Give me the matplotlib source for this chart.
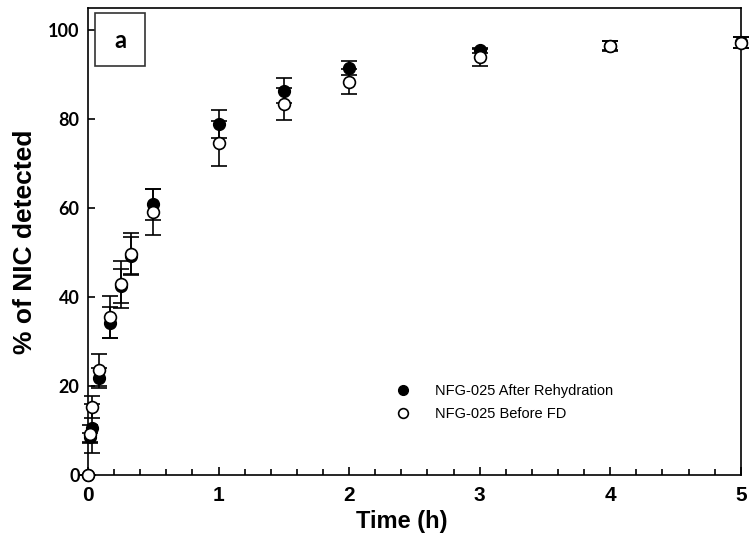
import matplotlib
matplotlib.use("Agg")
import matplotlib.pyplot as plt
from matplotlib.patches import Rectangle
from matplotlib.lines import Line2D
from matplotlib.ticker import MultipleLocator

# time points (h)
time_h = [0, 0.0167, 0.033, 0.083, 0.167, 0.25, 0.333, 0.5, 1, 1.5, 2, 3, 4, 5]

# NFG-025 after rehydration (filled)
after_mean = [0, 8.5, 10.5, 21.8, 34.2, 42.5, 49.3, 60.9, 78.9, 86.4, 91.5, 95.5, 96.6, 97.3]
after_err = [0, 1.0, 5.5, 2.2, 3.5, 3.8, 4.2, 3.5, 3.1, 2.8, 1.6, 0.6, 1.1, 1.2]

# NFG-025 before FD (open)
before_mean = [0, 9.2, 15.3, 23.6, 35.5, 42.9, 49.7, 59.1, 74.6, 83.4, 88.5, 94.0, 96.4, 97.2]
before_err = [0, 2.0, 2.5, 3.6, 4.7, 5.3, 4.8, 5.2, 5.0, 3.6, 2.9, 1.9, 1.1, 1.2]

labels = ['NFG-025 After Rehydration', 'NFG-025 Before FD']

fig = plt.figure(figsize=(7.52, 5.44), dpi=100)
ax = fig.add_axes([0.117, 0.127, 0.868, 0.858])

ax.errorbar(time_h, after_mean, yerr=after_err, fmt='o', color='black', mfc='black',
            mec='black', ms=8.5, ecolor='black', elinewidth=1.2, capsize=6, capthick=1.2,
            zorder=3, clip_on=False)
ax.errorbar(time_h, before_mean, yerr=before_err, fmt='o', color='black', mfc='white',
            mec='black', ms=8.5, mew=1.2, ecolor='black', elinewidth=1.2, capsize=6, capthick=1.2,
            zorder=4, clip_on=False)

ax.set_xlim(0, 5)
ax.set_ylim(0, 105)
ax.xaxis.set_major_locator(MultipleLocator(1))
ax.xaxis.set_minor_locator(MultipleLocator(0.2))
ax.yaxis.set_major_locator(MultipleLocator(20))
ax.tick_params(which='both', direction='in', top=False, right=False, width=1.2)
ax.tick_params(which='major', length=6)
ax.tick_params(which='minor', length=4)
ax.tick_params(axis='y', which='major', length=5)
for sp in ax.spines.values():
    sp.set_linewidth(1.2)

narrow = ['Liberation Sans Narrow', 'Liberation Sans', 'DejaVu Sans']
for lab in ax.get_xticklabels():
    lab.set_family(narrow)
    lab.set_fontweight('bold')
    lab.set_fontsize(15)
for lab in ax.get_yticklabels():
    lab.set_family(['Lato', 'DejaVu Sans'])
    lab.set_fontweight('bold')
    lab.set_fontsize(13)
ax.tick_params(axis='x', pad=8)
ax.tick_params(axis='y', pad=6)

ax.set_xlabel('Time (h)', family=narrow, fontweight='bold', fontsize=17, labelpad=-1)
ax.xaxis.set_label_coords(0.48, -0.075)
ax.set_ylabel('% of NIC detected', family=['Liberation Sans', 'DejaVu Sans'],
              fontweight='bold', fontsize=19, labelpad=8)

handles = [Line2D([], [], ls='none', marker='o', ms=7, mfc='black', mec='black'),
           Line2D([], [], ls='none', marker='o', ms=7, mfc='white', mec='black', mew=1.2)]
ax.legend(handles, labels, loc='upper left', bbox_to_anchor=(0.44, 0.222), frameon=False,
          prop={'family': 'Liberation Sans', 'size': 10.5},
          handletextpad=1.2, labelspacing=0.6)

# panel label box
ax.add_patch(Rectangle((0.0107, 0.876), 0.0766, 0.113, transform=ax.transAxes,
                       fill=False, edgecolor='#333333', lw=1.2, zorder=5))
ax.text(0.049, 0.931, 'a', transform=ax.transAxes, ha='center', va='center',
        family=['Lato', 'DejaVu Sans'], fontweight='bold', fontsize=17)

fig.savefig('out.png', dpi=100)
